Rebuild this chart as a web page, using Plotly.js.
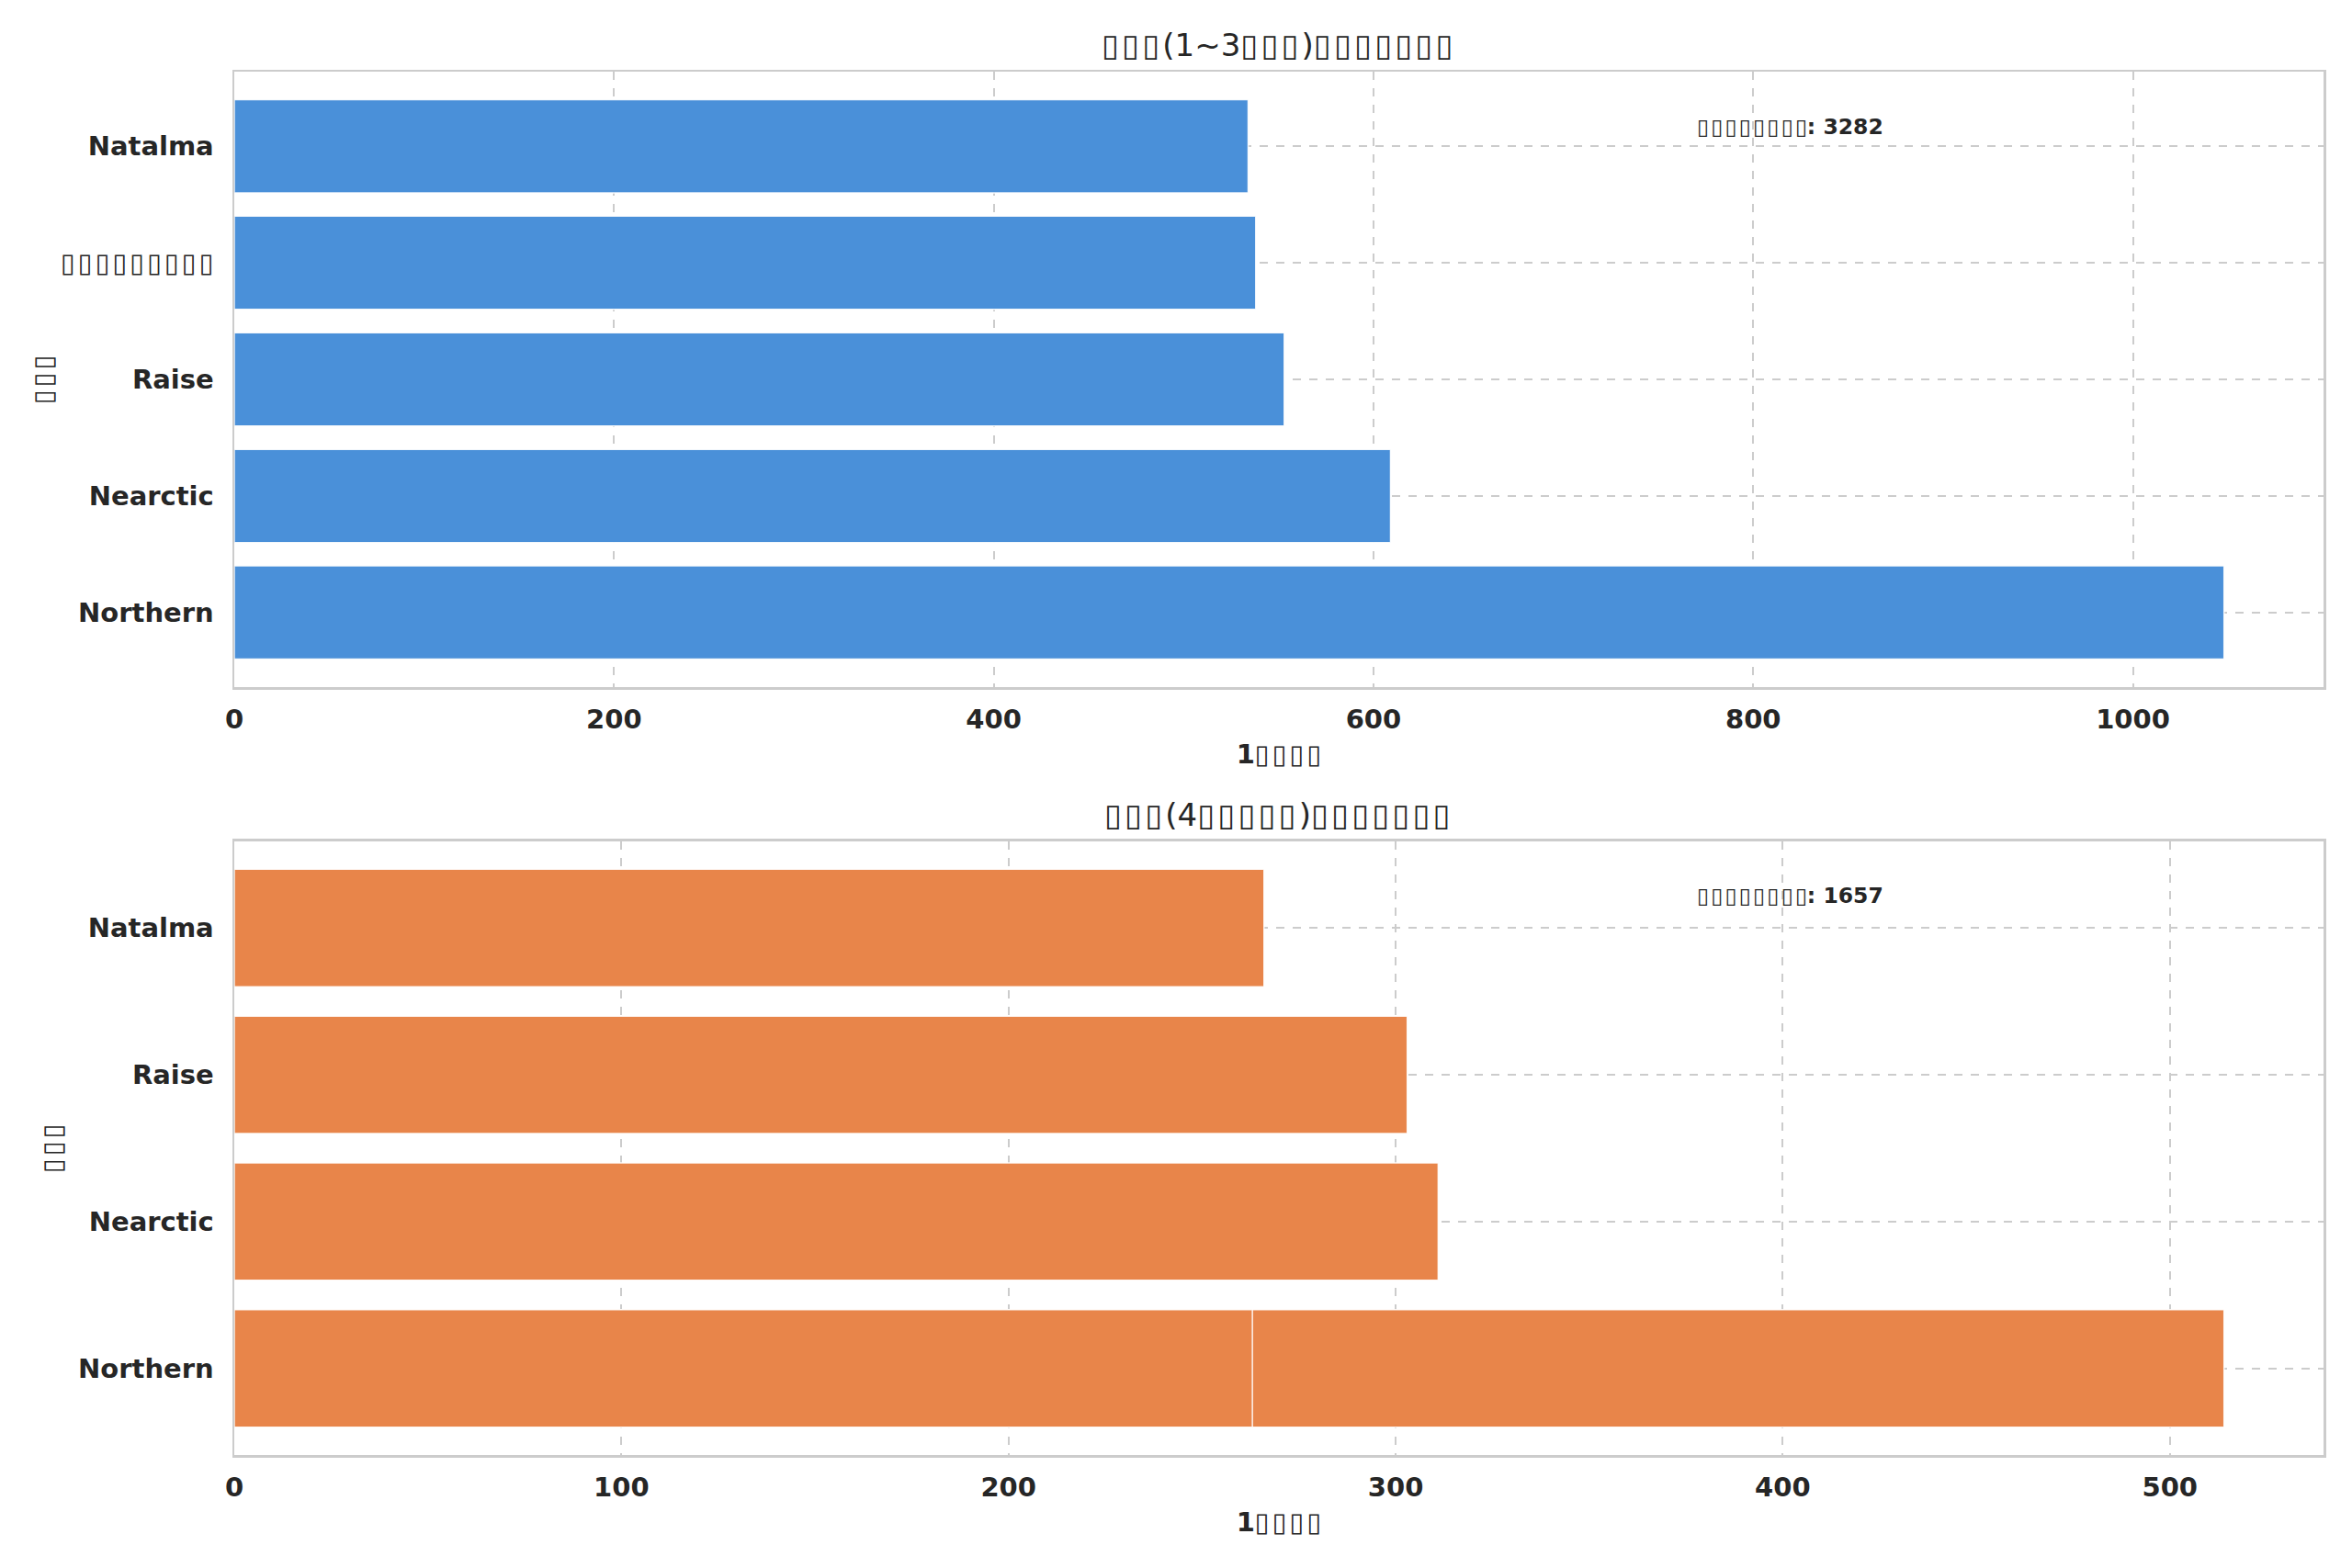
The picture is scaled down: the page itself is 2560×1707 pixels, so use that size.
<!DOCTYPE html>
<html>
<head>
<meta charset="utf-8">
<script src="https://cdn.plot.ly/plotly-3.0.1.min.js"></script>
<style>
html,body{margin:0;padding:0;background:#fff;}
#chart{width:2560px;height:1707px;}
</style>
</head>
<body>
<div id="chart"></div>
<script>
// Missing glyphs in the reference are drawn as boxes; reproduced with ▯ (plus a hair space for width)
const B = '\u25AF';
const HS = '\u200A';
const box = n => (B + HS).repeat(n);
const boxT = n => Array(n).fill(B).join(HS);

const topTitle = box(3) + '(1~3' + box(3) + ')' + box(7);
const bottomTitle = box(3) + '(4' + box(5) + ')' + box(7);
const xTitleText = '1' + boxT(4);
const yTitleText = boxT(3);
const totalLabel = boxT(8);

const topCategories = ['Northern', 'Nearctic', 'Raise', boxT(9), 'Natalma'];
const topValues = [1048, 609, 553, 538, 534];
const topTotal = 3282;

const bottomCategories = ['Northern', 'Nearctic', 'Raise', 'Natalma'];
const bottomValues = [514, 311, 303, 266];
const bottomExtraCategories = ['Northern'];
const bottomExtraValues = [263];
const bottomTotal = 1657;

const topTicks = [0, 200, 400, 600, 800, 1000];
const bottomTicks = [0, 100, 200, 300, 400, 500];

const BLUE = '#4a90d9';
const ORANGE = '#e8854a';
const TXT = '#262626';
const GRID = '#cccccc';
const FONT = 'DejaVu Sans, sans-serif';

const barLine = {color: 'rgba(255,255,255,0.9)', width: 1.5};

const traces = [
  {type: 'bar', orientation: 'h', x: topValues, y: topCategories, width: 0.8,
   marker: {color: BLUE, line: barLine}, xaxis: 'x', yaxis: 'y', hoverinfo: 'x+y'},
  {type: 'bar', orientation: 'h', x: bottomValues, y: bottomCategories, width: 0.8,
   marker: {color: ORANGE, line: barLine}, xaxis: 'x2', yaxis: 'y2', hoverinfo: 'x+y'},
  {type: 'bar', orientation: 'h', x: bottomExtraValues, y: bottomExtraCategories, width: 0.8,
   marker: {color: ORANGE, line: barLine}, xaxis: 'x2', yaxis: 'y2', hoverinfo: 'x+y'}
];

const tickFont = {family: FONT, size: 29, color: TXT, weight: 'bold'};

function xAxis(ticks, maxV, anchor) {
  return {
    anchor: anchor, range: [0, maxV * 1.05], tickvals: ticks, ticktext: ticks.map(String),
    showgrid: true, gridcolor: GRID, gridwidth: 2, griddash: 'dash',
    showline: true, linecolor: GRID, linewidth: 2.5, mirror: true,
    ticks: '', zeroline: false, tickfont: tickFont, ticklabelstandoff: 8,
    title: {text: xTitleText, font: {family: FONT, size: 29, color: TXT, weight: 'bold'}, standoff: 12},
    fixedrange: true
  };
}
function yAxis(cats, domain, anchor) {
  const n = cats.length;
  const span = (n - 1) + 0.8;
  return {
    anchor: anchor, domain: domain, type: 'category', categoryorder: 'array', categoryarray: cats,
    range: [-0.4 - span * 0.05, n - 1 + 0.4 + span * 0.05],
    showgrid: true, gridcolor: GRID, gridwidth: 2, griddash: 'dash',
    showline: true, linecolor: GRID, linewidth: 2.5, mirror: true,
    ticks: '', zeroline: false, tickfont: tickFont, ticklabelstandoff: 14,
    fixedrange: true
  };
}

const layout = {
  width: 2560, height: 1707,
  paper_bgcolor: '#ffffff', plot_bgcolor: '#ffffff',
  margin: {l: 255, r: 31, t: 78, b: 123},
  showlegend: false, barmode: 'overlay',
  font: {family: FONT, color: TXT},
  xaxis: xAxis(topTicks, topValues[0], 'y'),
  yaxis: yAxis(topCategories, [0.5551, 1], 'x'),
  xaxis2: xAxis(bottomTicks, bottomValues[0], 'y2'),
  yaxis2: yAxis(bottomCategories, [0, 0.4436], 'x2'),
  annotations: [
    {text: topTitle, xref: 'paper', yref: 'paper', x: 0.5, y: 1.0193, xanchor: 'center', yanchor: 'middle',
     showarrow: false, font: {family: FONT, size: 34, color: TXT}},
    {text: bottomTitle, xref: 'paper', yref: 'paper', x: 0.5, y: 0.4628, xanchor: 'center', yanchor: 'middle',
     showarrow: false, font: {family: FONT, size: 34, color: TXT}},
    {text: totalLabel + ': ' + topTotal, xref: 'x domain', yref: 'y domain', x: 0.699, y: 0.887,
     xanchor: 'left', yanchor: 'bottom', showarrow: false,
     font: {family: FONT, size: 23.5, color: TXT, weight: 'bold'}},
    {text: totalLabel + ': ' + bottomTotal, xref: 'x2 domain', yref: 'y2 domain', x: 0.699, y: 0.887,
     xanchor: 'left', yanchor: 'bottom', showarrow: false,
     font: {family: FONT, size: 23.5, color: TXT, weight: 'bold'}},
    {text: yTitleText, xref: 'paper', yref: 'y domain', x: (47 - 255) / 2274, y: 0.5,
     xanchor: 'center', yanchor: 'middle', textangle: -90, showarrow: false,
     font: {family: FONT, size: 29, color: TXT}},
    {text: yTitleText, xref: 'paper', yref: 'y2 domain', x: (57 - 255) / 2274, y: 0.5,
     xanchor: 'center', yanchor: 'middle', textangle: -90, showarrow: false,
     font: {family: FONT, size: 29, color: TXT}}
  ]
};

Plotly.newPlot('chart', traces, layout, {staticPlot: true, displayModeBar: false});
</script>
</body>
</html>
